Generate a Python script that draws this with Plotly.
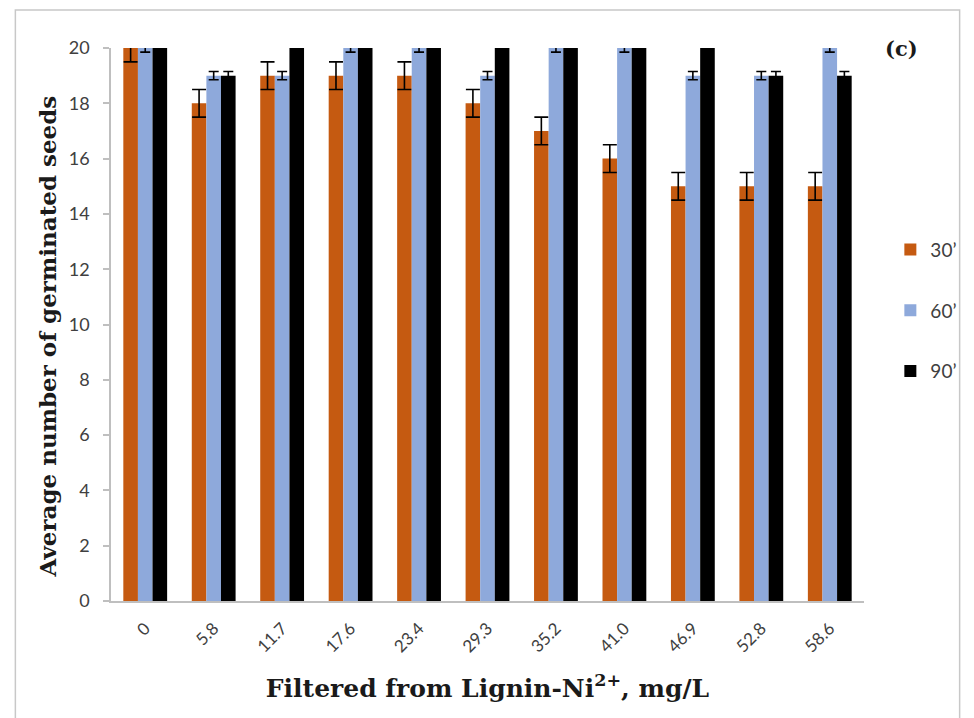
import plotly.graph_objects as go

# Concentration of the filtrate (mg/L)
categories = ["0", "5.8", "11.7", "17.6", "23.4", "29.3", "35.2", "41.0", "46.9", "52.8", "58.6"]

# Average germinated seeds per exposure time
germ_30 = [20, 18, 19, 19, 19, 18, 17, 16, 15, 15, 15]
germ_60 = [20, 19, 19, 20, 20, 19, 20, 20, 19, 19, 20]
germ_90 = [20, 19, 20, 20, 20, 20, 20, 20, 20, 19, 19]

# Standard errors
err_30 = [0.5] * 11
err_60 = [0.15] * 11
err_90 = [0.15] * 11

series = [
    ("30\u2019", germ_30, err_30, "#C55A11", 7),
    ("60\u2019", germ_60, err_60, "#8EA9DB", 5),
    ("90\u2019", germ_90, err_90, "#000000", 5),
]

fig = go.Figure()
for name, vals, errs, color, capw in series:
    fig.add_trace(go.Bar(
        x=categories, y=vals, name=name, legendgroup=name,
        marker=dict(color=color, line=dict(width=0)),
        error_y=dict(type="data", array=errs, visible=True,
                     color="#000000", thickness=1.6, width=capw),
    ))

serif = "DejaVu Serif"
sans = "Lato"
grid_grey = "#BFBFBF"

fig.update_layout(
    width=974, height=718,
    margin=dict(l=111, r=99, t=48, b=117),
    paper_bgcolor="white", plot_bgcolor="white",
    barmode="group", bargap=0.36, bargroupgap=0,
    showlegend=True,
    legend=dict(x=1.035, xanchor="left", y=0.525, yanchor="middle",
                traceorder="grouped", tracegroupgap=33,
                font=dict(family=sans, size=19, color="#404040"),
                bgcolor="rgba(0,0,0,0)"),
    xaxis=dict(type="category", tickangle=-45, showline=True,
               linecolor=grid_grey, linewidth=1.5, ticks="",
               ticklabelstandoff=9,
               tickfont=dict(family=sans, size=17, color="#404040"),
               title=dict(text="<b>Filtered from Lignin-Ni<sup>2+</sup>, mg/L</b>",
                          font=dict(family=serif, size=25, color="#1a1a1a"),
                          standoff=24)),
    yaxis=dict(range=[0, 20], dtick=2, showline=True, linecolor=grid_grey,
               linewidth=1.5, ticks="outside", ticklen=6, tickcolor=grid_grey,
               tickwidth=1.5, showgrid=False, zeroline=False,
               ticklabelstandoff=10,
               tickfont=dict(family=sans, size=18, color="#404040")),
    shapes=[dict(type="rect", xref="paper", yref="paper",
                 x0=-0.127, x1=1.127, y0=-0.25, y1=1.0687,
                 line=dict(color="#C8C8C8", width=1.5), layer="below")],
    annotations=[
        dict(text="<b>Average number of germinated seeds</b>",
             xref="paper", yref="paper", x=-0.084, y=0.478,
             xanchor="center", yanchor="middle", textangle=-90,
             showarrow=False,
             font=dict(family=serif, size=23, color="#1a1a1a")),
        dict(text="<b>(c)</b>", xref="paper", yref="paper",
             x=1.05, y=1.0, xanchor="center", yanchor="middle",
             showarrow=False,
             font=dict(family=serif, size=21, color="#1a1a1a")),
    ],
)

fig.write_html("out.html")
